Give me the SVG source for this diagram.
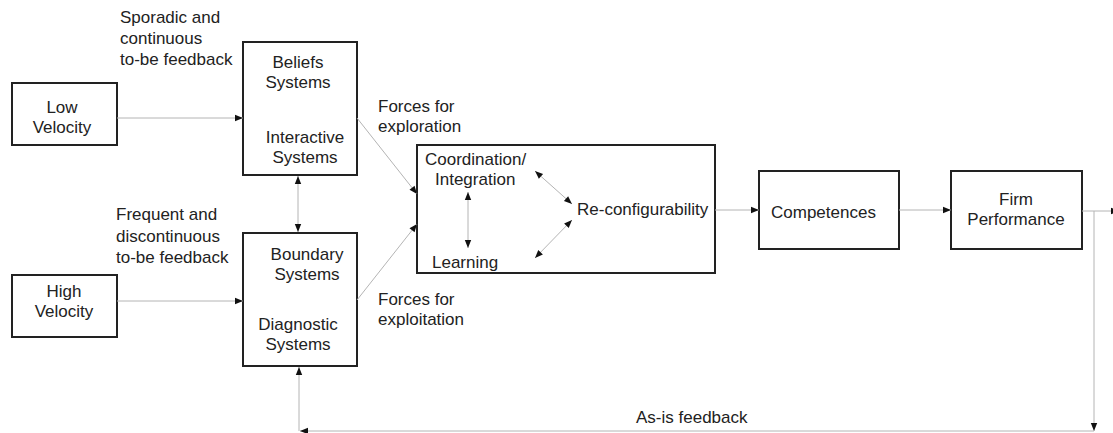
<svg xmlns="http://www.w3.org/2000/svg" width="1113" height="433" viewBox="0 0 1113 433">
<style>
.box{fill:#fff;stroke:#222;stroke-width:2}
text{font-family:"Liberation Sans",Arial,sans-serif;font-size:17px;fill:#222}
.c{text-anchor:middle}
.ln{fill:none;stroke:#b4b4b4;stroke-width:1}
</style>
<defs>
<marker id="arr" viewBox="0 0 10 10" refX="10" refY="5" markerWidth="9" markerHeight="8" markerUnits="userSpaceOnUse" orient="auto-start-reverse">
<path d="M0,1 L10,5 L0,9 z" fill="#111"/>
</marker>
</defs>
<g id="low-velocity">
<rect class="box" x="12" y="83" width="105" height="62"/>
<text class="c" x="62" y="113">Low</text>
<text class="c" x="62" y="133">Velocity</text>
</g>
<g id="high-velocity">
<rect class="box" x="12" y="275" width="105" height="62"/>
<text class="c" x="64" y="297">High</text>
<text class="c" x="64" y="317">Velocity</text>
</g>
<g id="beliefs-interactive">
<rect class="box" x="243" y="42" width="114" height="133"/>
<text class="c" x="298" y="68">Beliefs</text>
<text class="c" x="298" y="88">Systems</text>
<text class="c" x="305" y="143">Interactive</text>
<text class="c" x="305" y="163">Systems</text>
</g>
<g id="boundary-diagnostic">
<rect class="box" x="243" y="233" width="114" height="133"/>
<text class="c" x="307" y="260">Boundary</text>
<text class="c" x="307" y="280">Systems</text>
<text class="c" x="298" y="330">Diagnostic</text>
<text class="c" x="298" y="350">Systems</text>
</g>
<g id="capabilities">
<rect class="box" x="417" y="145" width="298" height="128"/>
<text x="425" y="165">Coordination/</text>
<text x="435" y="185">Integration</text>
<text x="432" y="268">Learning</text>
<text x="577" y="215">Re-configurability</text>
</g>
<g id="competences">
<rect class="box" x="759" y="171" width="140" height="78"/>
<text x="771" y="218">Competences</text>
</g>
<g id="firm-performance">
<rect class="box" x="951" y="171" width="131" height="78"/>
<text class="c" x="1016" y="205">Firm</text>
<text class="c" x="1016" y="225">Performance</text>
</g>
<g id="connectors">
<line class="ln" x1="117" y1="118" x2="243" y2="118" marker-end="url(#arr)"/>
<line class="ln" x1="117" y1="301" x2="243" y2="301" marker-end="url(#arr)"/>
<line class="ln" x1="298" y1="176" x2="298" y2="232" marker-start="url(#arr)" marker-end="url(#arr)"/>
<line class="ln" x1="357" y1="118" x2="417" y2="194" marker-end="url(#arr)"/>
<line class="ln" x1="357" y1="300" x2="417" y2="224" marker-end="url(#arr)"/>
<line class="ln" x1="468" y1="192" x2="468" y2="248" marker-start="url(#arr)" marker-end="url(#arr)"/>
<line class="ln" x1="535" y1="171" x2="572" y2="204" marker-start="url(#arr)" marker-end="url(#arr)"/>
<line class="ln" x1="535" y1="258" x2="572" y2="220" marker-start="url(#arr)" marker-end="url(#arr)"/>
<line class="ln" x1="715" y1="210" x2="759" y2="210" marker-end="url(#arr)"/>
<line class="ln" x1="899" y1="210" x2="951" y2="210" marker-end="url(#arr)"/>
<line class="ln" x1="1082" y1="211" x2="1119" y2="211" marker-end="url(#arr)"/>
<line class="ln" x1="1094" y1="211" x2="1094" y2="431" marker-end="url(#arr)"/>
<line class="ln" x1="1094" y1="431" x2="300" y2="431" marker-end="url(#arr)"/>
<line class="ln" x1="299" y1="431" x2="299" y2="367" marker-end="url(#arr)"/>
<text x="120" y="23">Sporadic and</text>
<text x="120" y="44">continuous</text>
<text x="120" y="65">to-be feedback</text>
<text x="116" y="220">Frequent and</text>
<text x="116" y="242">discontinuous</text>
<text x="116" y="263">to-be feedback</text>
<text x="378" y="112">Forces for</text>
<text x="378" y="132">exploration</text>
<text x="378" y="305">Forces for</text>
<text x="378" y="325">exploitation</text>
<text x="636" y="423">As-is feedback</text>
</g>
</svg>
